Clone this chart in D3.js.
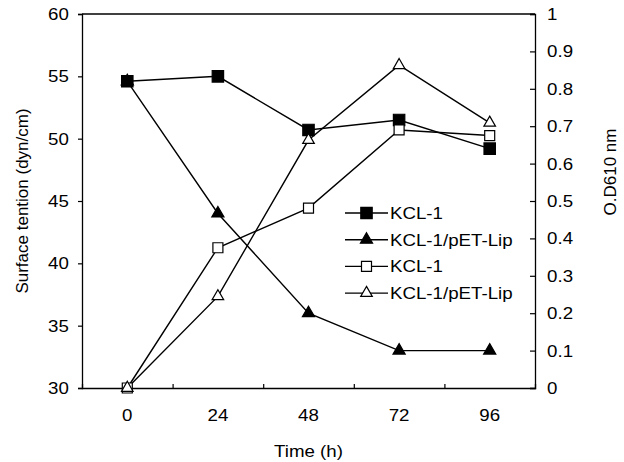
<!DOCTYPE html>
<html>
<head>
<meta charset="utf-8">
<script src="https://cdn.jsdelivr.net/npm/d3@7"></script>
<style>
  body { margin: 0; background: #fff; }
  text { font-family: Arial, "Liberation Sans", sans-serif; fill: #000; }
</style>
</head>
<body>
<div id="chart"></div>
<script>
// data
var hours = [0, 24, 48, 72, 96];
var tensionKCL = [54.6, 55.0, 50.7, 51.5, 49.2];   // filled square, left axis
var tensionLip = [54.6, 44.0, 36.0, 33.0, 33.0];   // filled triangle, left axis
var odKCL = [0, 0.375, 0.481, 0.69, 0.675];        // open square, right axis
var odLip = [0, 0.245, 0.663, 0.863, 0.709];       // open triangle, right axis
var leftTicks = [30, 35, 40, 45, 50, 55, 60];
var rightTicks = [0, 0.1, 0.2, 0.3, 0.4, 0.5, 0.6, 0.7, 0.8, 0.9, 1];
var legendNames = ["KCL-1", "KCL-1/pET-Lip", "KCL-1", "KCL-1/pET-Lip"];

var width = 624, height = 462;
var plot = {left: 82, right: 535, top: 14, bottom: 388};
var wide = "scale(1.1,1)";   // scanned figure text is a bit wider than Arial

var svg = d3.select("#chart").append("svg")
    .attr("width", width)
    .attr("height", height);

var x = d3.scaleLinear().domain([-12, 108]).range([plot.left, plot.right]);
var yL = d3.scaleLinear().domain([30, 60]).range([plot.bottom, plot.top]);
var yR = d3.scaleLinear().domain([0, 1]).range([plot.bottom, plot.top]);

// frame top line
svg.append("line")
    .attr("x1", plot.left).attr("x2", plot.right)
    .attr("y1", plot.top).attr("y2", plot.top)
    .attr("stroke", "#000").attr("stroke-width", 1.3);

// left axis
var gL = svg.append("g")
    .attr("transform", "translate(" + plot.left + ",0)")
    .call(d3.axisLeft(yL).tickValues(leftTicks).tickSize(4).tickPadding(8));

// right axis (inward ticks)
var gR = svg.append("g")
    .attr("transform", "translate(" + plot.right + ",0)")
    .call(d3.axisRight(yR).tickValues(rightTicks).tickSize(-5).tickPadding(11)
        .tickFormat(function(d){ return d === 0 || d === 1 ? String(d) : d3.format(".1f")(d); }));

// bottom axis: inward ticks at category borders, labels at centres
var gB = svg.append("g")
    .attr("transform", "translate(0," + plot.bottom + ")")
    .call(d3.axisBottom(x).tickValues([12, 36, 60, 84]).tickSize(-4).tickFormat(""));

svg.append("g").selectAll("text")
    .data(hours)
    .enter().append("text")
    .attr("transform", function(d){ return "translate(" + x(d) + "," + (plot.bottom + 33) + ") " + wide; })
    .attr("text-anchor", "middle")
    .attr("font-size", "17px")
    .text(function(d){ return d; });

[gL, gR, gB].forEach(function(g){
  g.select(".domain").attr("stroke", "#000").attr("stroke-width", 1.3);
  g.selectAll(".tick line").attr("stroke", "#000").attr("stroke-width", 1.2);
  g.selectAll(".tick text")
      .attr("font-size", "17px")
      .attr("font-family", "Arial, 'Liberation Sans', sans-serif")
      .attr("fill", "#000")
      .attr("transform", wide);
});

// axis titles
svg.append("text")
    .attr("transform", "translate(" + ((plot.left + plot.right) / 2) + ",457) " + wide)
    .attr("text-anchor", "middle")
    .attr("font-size", "17px")
    .text("Time (h)");

svg.append("text")
    .attr("transform", "translate(28," + ((plot.top + plot.bottom) / 2) + ") rotate(-90)")
    .attr("text-anchor", "middle")
    .attr("font-size", "17px")
    .text("Surface tention (dyn/cm)");

svg.append("text")
    .attr("transform", "translate(616,172) rotate(-90)")
    .attr("text-anchor", "middle")
    .attr("font-size", "17px")
    .text("O.D610 nm");

// series
var series = [
  {vals: tensionKCL, y: yL, shape: d3.symbolSquare, fill: "#000", size: 130},
  {vals: tensionLip, y: yL, shape: d3.symbolTriangle, fill: "#000", size: 64},
  {vals: odKCL, y: yR, shape: d3.symbolSquare, fill: "#fff", size: 100},
  {vals: odLip, y: yR, shape: d3.symbolTriangle, fill: "#fff", size: 58}
];

series.forEach(function(s){
  var line = d3.line()
      .x(function(d, i){ return x(hours[i]); })
      .y(function(d){ return s.y(d); });
  svg.append("path")
      .datum(s.vals)
      .attr("d", line)
      .attr("fill", "none")
      .attr("stroke", "#000")
      .attr("stroke-width", 1.4);
});

// markers: filled triangles first so the square at t=0 covers them
[1, 0, 2, 3].forEach(function(k){
  var s = series[k];
  svg.append("g").selectAll("path")
      .data(s.vals)
      .enter().append("path")
      .attr("transform", function(d, i){ return "translate(" + x(hours[i]) + "," + s.y(d) + ")"; })
      .attr("d", d3.symbol().type(s.shape).size(s.size))
      .attr("fill", s.fill)
      .attr("stroke", "#000")
      .attr("stroke-width", 1.2);
});

// legend
var legend = svg.append("g").attr("transform", "translate(345,213)");
series.forEach(function(s, i){
  var row = legend.append("g").attr("transform", "translate(0," + (i * 26.7) + ")");
  row.append("line")
      .attr("x1", 0).attr("x2", 43)
      .attr("stroke", "#000").attr("stroke-width", 1.4);
  row.append("path")
      .attr("transform", "translate(21.5,0)")
      .attr("d", d3.symbol().type(s.shape).size(s.size))
      .attr("fill", s.fill)
      .attr("stroke", "#000")
      .attr("stroke-width", 1.2);
  row.append("text")
      .attr("transform", "translate(45,6) " + wide)
      .attr("font-size", "17px")
      .text(legendNames[i]);
});
</script>
</body>
</html>
